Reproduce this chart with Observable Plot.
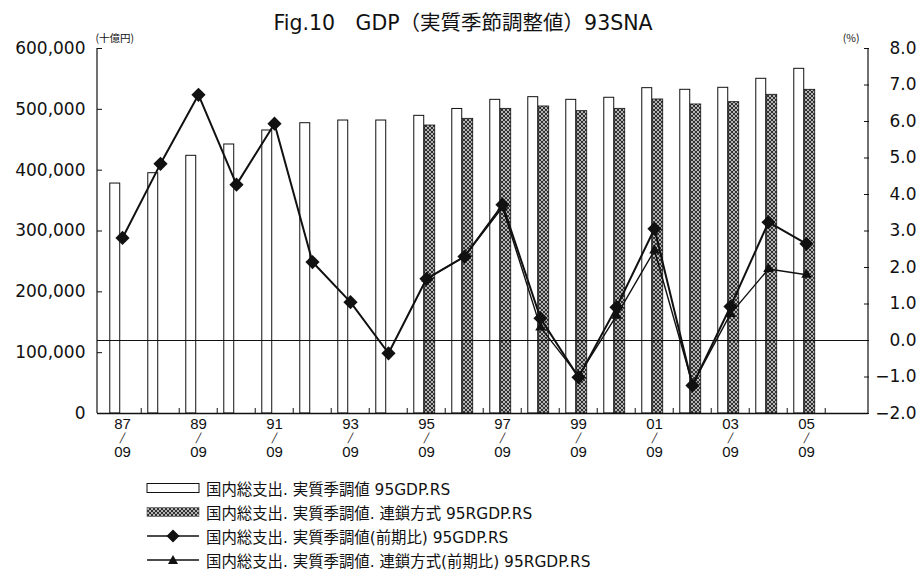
<!DOCTYPE html>
<html lang="ja">
<head>
<meta charset="utf-8">
<script src="https://cdn.jsdelivr.net/npm/d3@7"></script>
<script src="https://cdn.jsdelivr.net/npm/@observablehq/plot@0.6"></script>
<style>
  html,body{margin:0;padding:0;background:#fff;}
  #wrap{position:relative;width:917px;height:572px;overflow:hidden;background:#fff;}
  #wrap > svg.plot{display:block;}
  #defs{position:absolute;left:0;top:0;width:0;height:0;}
  #legend{position:absolute;left:146px;top:476px;font-family:'DejaVu Sans','Noto Sans CJK JP',sans-serif;font-size:15.4px;color:#111;}
  .row{display:flex;align-items:center;height:24px;white-space:nowrap;}
  .row svg{margin-right:6px;flex:none;}
</style>
</head>
<body>
<div id="wrap">
<svg id="defs" aria-hidden="true"><defs>
  <pattern id="hatch" patternUnits="userSpaceOnUse" width="4" height="4">
    <rect width="4" height="4" fill="#b4b4b4"/>
    <path d="M0,0L4,4M4,0L0,4" stroke="#222" stroke-width="0.9"/>
  </pattern>
</defs></svg>
<div id="legend"></div>
</div>
<script>
// ---- data ----
const xDomain = [1987,1988,1989,1990,1991,1992,1993,1994,1995,1996,1997,1998,1999,2000,2001,2002,2003,2004,2005,2006];
const years95 = [1987,1988,1989,1990,1991,1992,1993,1994,1995,1996,1997,1998,1999,2000,2001,2002,2003,2004,2005];
const gdp95 = [378000,395000,423600,442200,465200,477200,481600,481600,489300,500600,515600,520000,515600,519000,534800,532100,535400,550200,566600];
const growth95 = [2.81,4.84,6.73,4.27,5.94,2.15,1.05,-0.35,1.69,2.30,3.72,0.61,-1.01,0.91,3.06,-1.23,0.93,3.24,2.65];
const yearsChain = [1995,1996,1997,1998,1999,2000,2001,2002,2003,2004,2005];
const rgdpChain = [473400,484400,500800,504700,497000,500800,516200,508000,511800,523900,532100];
const growthChain = [1.69,2.30,3.65,0.36,-0.97,0.68,2.47,-1.20,0.73,1.96,1.80];
const leftTicks = [0,100000,200000,300000,400000,500000,600000];
const rightTicks = [-2,-1,0,1,2,3,4,5,6,7,8];
const labelYears = [1987,1989,1991,1993,1995,1997,1999,2001,2003,2005];
const boundaryYears = [1988,1989,1990,1991,1992,1993,1994,1995,1996,1997,1998,1999,2000,2001,2002,2003,2004,2005,2006];
const monthLabel = "09";
const titleText = "Fig.10　GDP（実質季節調整値）93SNA";
const leftUnit = "(十億円)";
const rightUnit = "(%)";
const legendLabels = [
  "国内総支出. 実質季調値 95GDP.RS",
  "国内総支出. 実質季調値. 連鎖方式 95RGDP.RS",
  "国内総支出. 実質季調値(前期比) 95GDP.RS",
  "国内総支出. 実質季調値. 連鎖方式(前期比) 95RGDP.RS"
];

// ---- tables ----
const gdpRows = years95.map((year, i) => ({year, value: gdp95[i]}));
const chainRows = yearsChain.map((year, i) => ({year, value: rgdpChain[i]}));
const growthRows = years95.map((year, i) => ({year, pct: growth95[i]}));
const growthChainRows = yearsChain.map((year, i) => ({year, pct: growthChain[i]}));

// secondary axis: -2%..8% mapped onto 0..600,000
const toY = p => (p + 2) * 60000;
const fromY = v => v / 60000 - 2;

const W = 917, H = 470, mL = 97, mR = 49, mT = 48, mB = 57;
const bw = (W - mL - mR) / xDomain.length;
const half = bw / 2;
const latin = "'DejaVu Sans', 'Noto Sans CJK JP', sans-serif";
const narrow = "'Liberation Sans Narrow', 'Liberation Sans', sans-serif";

function sideLines(index, scales, values, dims) {
  const {width, height, marginLeft, marginRight, marginTop, marginBottom} = dims;
  const g = d3.create("svg:g").attr("stroke", "#111").attr("stroke-width", 1.2);
  const xl = marginLeft, xr = width - marginRight, yt = marginTop, yb = height - marginBottom;
  g.append("line").attr("x1", xl).attr("x2", xl).attr("y1", yt).attr("y2", yb);
  g.append("line").attr("x1", xr).attr("x2", xr).attr("y1", yt).attr("y2", yb);
  return g.node();
}

const chart = Plot.plot({
  width: W, height: H,
  marginLeft: mL, marginRight: mR, marginTop: mT, marginBottom: mB,
  style: {fontFamily: latin, fontSize: "17px", color: "#111", background: "white", overflow: "visible"},
  x: {type: "band", domain: xDomain, padding: 0, axis: null},
  y: {domain: [0, 600000], axis: null},
  marks: [
    Plot.barY(gdpRows, {x: "year", y: "value", fill: "white", stroke: "#111", strokeWidth: 1,
      insetLeft: half - 12.5, insetRight: half + 2}),
    Plot.barY(chainRows, {x: "year", y: "value", fill: "url(#hatch)", stroke: "#111", strokeWidth: 0.8,
      insetLeft: half - 2, insetRight: half - 9}),
    Plot.ruleY([toY(0)], {stroke: "#111", strokeWidth: 1}),
    Plot.ruleY([0], {stroke: "#111", strokeWidth: 1.3}),
    sideLines,
    // left axis
    Plot.axisY({anchor: "left", ticks: leftTicks, tickSize: 0, tickPadding: 12, tickFormat: d3.format(","), label: null, fontSize: 17}),
    Plot.axisY({anchor: "left", ticks: leftTicks, tickSize: 5, dx: 5, fill: "none", label: null}),
    // right axis
    Plot.axisY({anchor: "right", ticks: rightTicks.map(toY), tickSize: 0, tickPadding: 48, textAnchor: "end",
      tickFormat: v => { const p = fromY(v); return (p < -0.001 ? "−" : "") + Math.abs(p).toFixed(1); }, label: null, fontSize: 17}),
    Plot.axisY({anchor: "right", ticks: rightTicks.map(toY), tickSize: 5, dx: -5, fill: "none", label: null}),
    // x axis: boundary ticks pointing inward, then three label rows (year / slash / month)
    Plot.axisX({anchor: "bottom", ticks: boundaryYears, tickSize: 5, dx: -half, dy: -5, fill: "none", label: null}),
    Plot.axisX({anchor: "bottom", ticks: labelYears, tickSize: 0, tickPadding: 5, lineAnchor: "top",
      tickFormat: y => String(y).slice(2), fontSize: 15, fontFamily: narrow, label: null}),
    Plot.axisX({anchor: "bottom", ticks: labelYears, tickSize: 0, tickPadding: 21, lineAnchor: "top",
      tickFormat: () => "╱", fontSize: 9.3, fontFamily: "'DejaVu Sans', sans-serif", label: null}),
    Plot.axisX({anchor: "bottom", ticks: labelYears, tickSize: 0, tickPadding: 32.5, lineAnchor: "top",
      tickFormat: () => monthLabel, fontSize: 15, fontFamily: narrow, label: null}),
    // growth lines
    Plot.line(growthChainRows, {x: "year", y: d => toY(d.pct), stroke: "#111", strokeWidth: 1.4}),
    Plot.dot(growthChainRows, {x: "year", y: d => toY(d.pct), symbol: "triangle", r: 3.9, fill: "#111", stroke: "none"}),
    Plot.line(growthRows, {x: "year", y: d => toY(d.pct), stroke: "#111", strokeWidth: 2}),
    Plot.dot(growthRows, {x: "year", y: d => toY(d.pct), symbol: "diamond2", r: 6.4, fill: "#111", stroke: "none"}),
    // texts
    Plot.text([titleText], {text: d => d, frameAnchor: "top", dx: -20, dy: -25, fontSize: 20.5, lineAnchor: "middle", fill: "#111"}),
    Plot.text([leftUnit], {text: d => d, frameAnchor: "top-left", dx: -2, dy: -10, textAnchor: "start", fontSize: 10.5,
      fontFamily: "'Noto Sans CJK JP', sans-serif", lineAnchor: "middle", fill: "#111"}),
    Plot.text([rightUnit], {text: d => d, frameAnchor: "top-right", dx: -9, dy: -10, textAnchor: "end", fontSize: 10.5,
      fontFamily: "'Noto Sans CJK JP', sans-serif", lineAnchor: "middle", fill: "#111"})
  ]
});
document.getElementById("wrap").prepend(chart);

// ---- legend ----
const swatches = [
  `<rect x="1" y="2.5" width="52" height="9" fill="white" stroke="#111" stroke-width="1"/>`,
  `<rect x="1" y="2.5" width="52" height="9" fill="url(#hatch)" stroke="#555" stroke-width="0.6"/>`,
  `<line x1="1" x2="53" y1="7" y2="7" stroke="#111" stroke-width="1.6"/><polygon points="27,0.5 33.5,7 27,13.5 20.5,7" fill="#111"/>`,
  `<line x1="1" x2="53" y1="7" y2="7" stroke="#111" stroke-width="1.4"/><polygon points="27,2 32,11 22,11" fill="#111"/>`
];
const legend = document.getElementById("legend");
legendLabels.forEach((lab, i) => {
  const row = document.createElement("div");
  row.className = "row";
  row.innerHTML = `<svg width="54" height="14" viewBox="0 0 54 14">${swatches[i]}</svg><span>${lab}</span>`;
  legend.appendChild(row);
});
</script>
</body>
</html>
